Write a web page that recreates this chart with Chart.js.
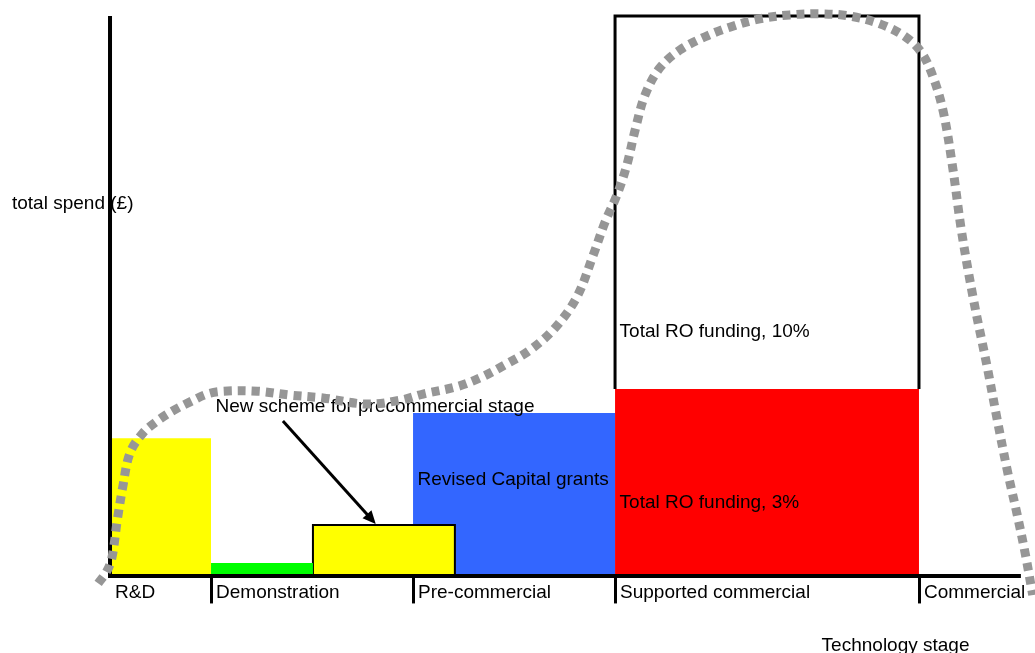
<!DOCTYPE html>
<html>
<head>
<meta charset="utf-8">
<script src="https://cdn.jsdelivr.net/npm/chart.js@4"></script>
<style>
  html, body { margin: 0; padding: 0; background: #fff; }
  #wrap { width: 1035px; height: 653px; }
</style>
</head>
<body>
<div id="wrap"><canvas id="stageChart" width="1035" height="653"></canvas></div>
<script>
// stage boundaries along the x axis (axis runs 0..100)
var stages = ['R&D', 'Demonstration', 'Pre-commercial', 'Supported commercial', 'Commercial'];
var stageStarts = [0, 11.1, 33.3, 55.5, 88.9];
var axisEnd = 100.1;

// spend blocks: [x0, x1, bottom, top]
var rdGrant = [0, 11.1, 0, 24.6];
var demoGrant = [11.1, 22.3, 0, 2.3];
var newScheme = [22.3, 37.9, 0, 9.1];
var capitalGrants = [33.3, 55.5, 0, 29.1];
var ro3 = [55.5, 88.9, 0, 33.4];
var ro10 = [55.5, 88.9, 33.4, 100];

// dotted spend curve
var curveX = [-1.3, -0.4, 0.2, 0.8, 1.4, 2.2, 3.6, 5.2, 6.9, 8.8, 10.7, 12.4, 16.2, 19.8, 23.4, 28.2,
  31.9, 34.4, 38.1, 40.7, 43.4, 46.2, 48.9, 51.3, 53.1, 54.4, 55.7, 56.8, 57.7, 58.8, 60.4, 62.6,
  65.4, 68.1, 71.4, 74.7, 78.0, 81.3, 84.6, 87.4, 89.2, 90.5, 91.6, 92.6, 93.6, 94.9, 96.4, 97.5,
  98.6, 99.7, 100.6, 101.4];
var curveY = [-1.3, 0.7, 3.2, 10.0, 15.9, 22.0, 25.5, 27.7, 29.5, 31.1, 32.5, 33.0, 33.0, 32.3, 31.8, 30.7,
  31.4, 32.5, 33.8, 35.4, 37.7, 40.4, 44.3, 49.8, 57.3, 63.2, 68.0, 73.4, 79.6, 85.9, 90.7, 93.9,
  96.3, 98.0, 99.5, 100.2, 100.4, 100.0, 98.6, 96.3, 93.4, 88.9, 82.7, 73.0, 61.3, 49.3, 37.3, 27.9,
  18.9, 10.9, 3.8, -3.4];

function rect(r) {
  return [{x: r[0], y: r[2]}, {x: r[0], y: r[3]}, {x: r[1], y: r[3]}, {x: r[1], y: r[2]}];
}
function block(r, fillColor, border, order) {
  return {
    data: rect(r),
    backgroundColor: fillColor,
    borderColor: border ? '#000' : 'rgba(0,0,0,0)',
    borderWidth: border || 0,
    fill: fillColor ? 'origin' : false,
    tension: 0,
    pointRadius: 0,
    order: order
  };
}

var curve = {
  data: curveX.map(function (x, i) { return {x: x, y: curveY[i]}; }),
  borderColor: '#969696',
  borderWidth: 9,
  borderDash: [8, 6],
  borderCapStyle: 'butt',
  fill: false,
  tension: 0.35,
  pointRadius: 0,
  order: 0
};

var FONT = '19px "Liberation Sans", Arial, sans-serif';

var labelsPlugin = {
  id: 'stageLabels',
  beforeDatasetDraw: function (chart, args) {
    if (args.index !== 0) return;
    var ctx = chart.ctx, xs = chart.scales.x, ys = chart.scales.y;
    ctx.save();
    // axes
    ctx.strokeStyle = '#000';
    ctx.lineWidth = 4;
    ctx.beginPath();
    ctx.moveTo(xs.getPixelForValue(0), ys.getPixelForValue(100));
    ctx.lineTo(xs.getPixelForValue(0), ys.getPixelForValue(0));
    ctx.lineTo(xs.getPixelForValue(axisEnd), ys.getPixelForValue(0));
    ctx.stroke();
    ctx.lineWidth = 3;
    stageStarts.forEach(function (s, i) {
      if (i === 0) return;
      var px = Math.round(xs.getPixelForValue(s)) + 0.5;
      ctx.beginPath();
      ctx.moveTo(px, ys.getPixelForValue(0));
      ctx.lineTo(px, ys.getPixelForValue(-4.9));
      ctx.stroke();
    });

    ctx.fillStyle = '#000';
    ctx.font = FONT;
    ctx.textBaseline = 'middle';
    ctx.textAlign = 'left';
    stages.forEach(function (s, i) {
      ctx.fillText(s, xs.getPixelForValue(stageStarts[i]) + 5, ys.getPixelForValue(-3));
    });
    ctx.fillText('Technology stage', xs.getPixelForValue(78.2), ys.getPixelForValue(-12.5));
    ctx.fillText('total spend (£)', 12, ys.getPixelForValue(66.4));
    ctx.fillText('New scheme for precommercial stage', xs.getPixelForValue(11.6), ys.getPixelForValue(30.2));
    ctx.fillText('Revised Capital grants', xs.getPixelForValue(33.8), ys.getPixelForValue(17.1));
    ctx.fillText('Total RO funding, 3%', xs.getPixelForValue(56.0), ys.getPixelForValue(13.0));
    ctx.fillText('Total RO funding, 10%', xs.getPixelForValue(56.0), ys.getPixelForValue(43.6));

    // arrow to the new scheme block
    var x1 = xs.getPixelForValue(19.0), y1 = ys.getPixelForValue(27.7);
    var x2 = xs.getPixelForValue(29.2), y2 = ys.getPixelForValue(9.3);
    var ang = Math.atan2(y2 - y1, x2 - x1);
    ctx.lineWidth = 3;
    ctx.beginPath();
    ctx.moveTo(x1, y1);
    ctx.lineTo(x2 - 8 * Math.cos(ang), y2 - 8 * Math.sin(ang));
    ctx.stroke();
    ctx.beginPath();
    ctx.moveTo(x2, y2);
    ctx.lineTo(x2 - 13 * Math.cos(ang) + 6 * Math.sin(ang), y2 - 13 * Math.sin(ang) - 6 * Math.cos(ang));
    ctx.lineTo(x2 - 13 * Math.cos(ang) - 6 * Math.sin(ang), y2 - 13 * Math.sin(ang) + 6 * Math.cos(ang));
    ctx.closePath();
    ctx.fill();
    ctx.restore();
  }
};

var stageChart = new Chart(document.getElementById('stageChart'), {
  type: 'line',
  data: {
    datasets: [
      curve,
      block(ro10, null, 3, 1),
      block(ro3, '#FF0000', 0, 2),
      block(demoGrant, '#00FF00', 0, 3),
      block(rdGrant, '#FFFF00', 0, 4),
      block(newScheme, '#FFFF00', 2, 5),
      block(capitalGrants, '#3366FF', 0, 6)
    ]
  },
  options: {
    responsive: false,
    animation: false,
    layout: { padding: 0 },
    scales: {
      x: { type: 'linear', min: -12.09, max: 101.65, display: false },
      y: { type: 'linear', min: -13.75, max: 102.86, display: false }
    },
    plugins: {
      legend: { display: false },
      tooltip: { enabled: false }
    }
  },
  plugins: [labelsPlugin]
});
</script>
</body>
</html>
